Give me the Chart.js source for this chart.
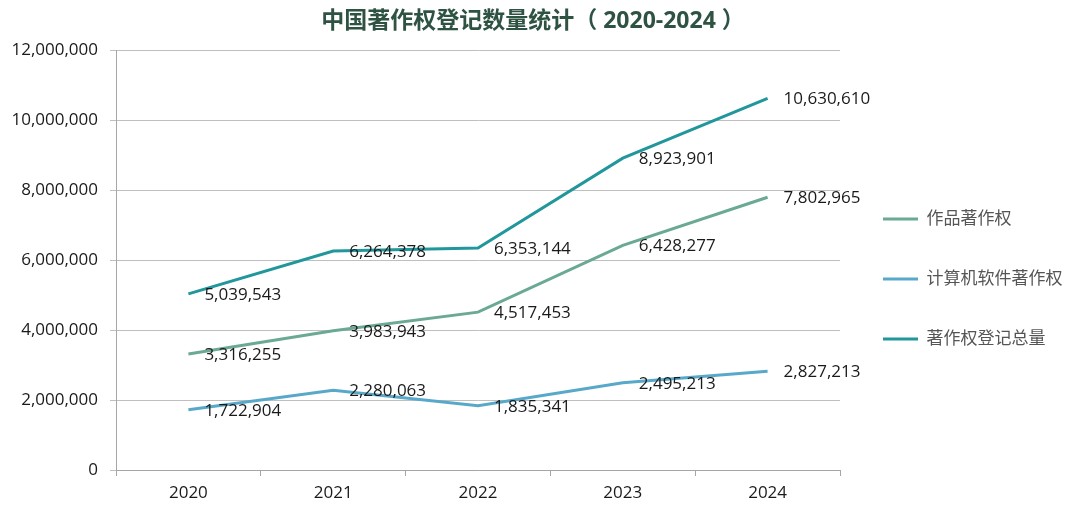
<!DOCTYPE html>
<html>
<head>
<meta charset="utf-8">
<script src="https://cdn.jsdelivr.net/npm/chart.js@4"></script>
<style>
  html, body { margin: 0; padding: 0; background: #fff; }
  #wrap { width: 1066px; height: 507px; }
</style>
</head>
<body>
<div id="wrap"><canvas id="chart"></canvas></div>
<script>
const years = ['2020', '2021', '2022', '2023', '2024'];
const worksCopyright = [3316255, 3983943, 4517453, 6428277, 7802965];
const softwareCopyright = [1722904, 2280063, 1835341, 2495213, 2827213];
const totalCopyright = [5039543, 6264378, 6353144, 8923901, 10630610];

const FONT = '"Open Sans", "Noto Sans CJK SC", sans-serif';

// value labels to the right of every point
const pointLabels = {
  id: 'pointLabels',
  afterDatasetsDraw(chart) {
    const ctx = chart.ctx;
    ctx.save();
    ctx.font = '17px ' + FONT;
    ctx.fillStyle = '#1a1a1a';
    ctx.textAlign = 'left';
    ctx.textBaseline = 'middle';
    chart.data.datasets.forEach((ds, i) => {
      chart.getDatasetMeta(i).data.forEach((pt, j) => {
        ctx.fillText(ds.data[j].toLocaleString('en-US'), pt.x + 16, pt.y + 1);
      });
    });
    ctx.restore();
  }
};

function series(label, data, color) {
  return {
    label: label,
    data: data,
    borderColor: color,
    backgroundColor: color,
    borderWidth: 3,
    pointRadius: 0,
    tension: 0
  };
}

new Chart(document.getElementById('chart'), {
  type: 'line',
  data: {
    labels: years,
    datasets: [
      series('作品著作权', worksCopyright, '#6aa994'),
      series('计算机软件著作权', softwareCopyright, '#58a9c9'),
      series('著作权登记总量', totalCopyright, '#21979b')
    ]
  },
  options: {
    responsive: true,
    maintainAspectRatio: false,
    animation: false,
    layout: { padding: 0 },
    plugins: {
      title: {
        display: true,
        text: '中国著作权登记数量统计（ 2020-2024 ）',
        color: '#2e5343',
        font: { family: FONT, size: 23, weight: 'bold' },
        padding: { top: 8, bottom: 15 }
      },
      legend: {
        position: 'right',
        maxWidth: 226,
        title: { display: true, text: ' ', font: { size: 1 }, padding: { top: 50, bottom: 0 } },
        labels: {
          usePointStyle: true,
          pointStyle: 'line',
          pointStyleWidth: 35,
          color: '#555',
          font: { family: FONT, size: 17 },
          padding: 43
        }
      },
      tooltip: { enabled: false }
    },
    scales: {
      x: {
        offset: true,
        grid: { display: true, drawOnChartArea: false, offset: true, tickLength: 6, color: '#a6a6a6' },
        border: { display: true, color: '#a6a6a6' },
        ticks: { color: '#1a1a1a', font: { family: FONT, size: 17 }, padding: 7 },
        afterFit(scale) { scale.height = 37; }
      },
      y: {
        min: 0,
        max: 12000000,
        grid: { color: '#bfbfbf', tickLength: 6 },
        border: { display: true, color: '#a6a6a6' },
        ticks: {
          stepSize: 2000000,
          color: '#1a1a1a',
          font: { family: FONT, size: 17 },
          padding: 12,
          callback: v => v.toLocaleString('en-US')
        },
        afterFit(scale) { scale.width = 116; }
      }
    }
  },
  plugins: [pointLabels]
});
</script>
</body>
</html>
